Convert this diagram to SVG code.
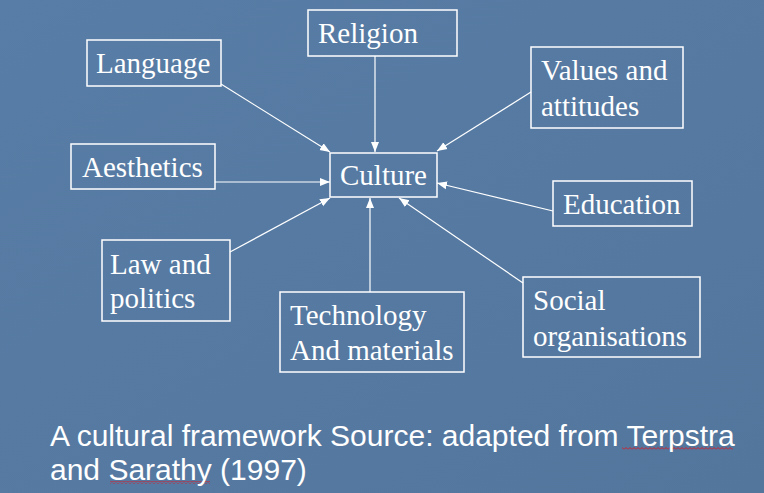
<svg xmlns="http://www.w3.org/2000/svg" width="764" height="493" viewBox="0 0 764 493">
<defs>
<marker id="ah" viewBox="0 0 10 10" refX="10" refY="5" markerWidth="10" markerHeight="10" markerUnits="userSpaceOnUse" orient="auto">
<path d="M0,1 L10,5 L0,9 Z" fill="#ffffff"/>
</marker>
<linearGradient id="bg" x1="0" y1="0" x2="1" y2="1">
<stop offset="0" stop-color="#587da6"/>
<stop offset="1" stop-color="#53769d"/>
</linearGradient>
<pattern id="sq" width="4" height="3" patternUnits="userSpaceOnUse">
<path d="M0,2.5 L2,0.5 L4,2.5" fill="none" stroke="#d0202a" stroke-width="1"/>
</pattern>
</defs>
<style>
.box{fill:none;stroke:#ffffff;stroke-width:1.5}
.t{font-family:"Liberation Serif","Times New Roman",serif;font-size:29px;fill:#ffffff}
.c{font-family:"Liberation Sans",Arial,sans-serif;font-size:30px;fill:#ffffff}
.ln{stroke:#ffffff;stroke-width:1.2;fill:none;marker-end:url(#ah)}
</style>
<rect width="764" height="493" fill="url(#bg)"/>
<g id="connectors">
<line class="ln" x1="221" y1="84" x2="330" y2="152"/>
<line class="ln" x1="375" y1="56" x2="375" y2="152"/>
<line class="ln" x1="531" y1="92" x2="437" y2="151"/>
<line class="ln" x1="215" y1="182" x2="330" y2="182"/>
<line class="ln" x1="553" y1="211" x2="437" y2="183"/>
<line class="ln" x1="230" y1="252" x2="330" y2="198"/>
<line class="ln" x1="370" y1="292" x2="370" y2="198"/>
<line class="ln" x1="523" y1="283" x2="399" y2="198"/>
</g>
<g id="language"><rect class="box" x="87" y="40" width="134" height="46"/><text class="t" x="96" y="73">Language</text></g>
<g id="religion"><rect class="box" x="308" y="10" width="149" height="46"/><text class="t" x="318" y="43">Religion</text></g>
<g id="values"><rect class="box" x="531" y="47" width="152" height="81"/><text class="t" x="541" y="80">Values and</text><text class="t" x="541" y="116">attitudes</text></g>
<g id="aesthetics"><rect class="box" x="71" y="144" width="144" height="45"/><text class="t" x="82" y="177">Aesthetics</text></g>
<g id="culture"><rect class="box" x="330" y="153" width="107" height="44"/><text class="t" x="340" y="185">Culture</text></g>
<g id="education"><rect class="box" x="553" y="181" width="139" height="45"/><text class="t" x="563" y="214">Education</text></g>
<g id="law"><rect class="box" x="102" y="240" width="128" height="81"/><text class="t" x="110" y="274">Law and</text><text class="t" x="110" y="308">politics</text></g>
<g id="technology"><rect class="box" x="280" y="292" width="184" height="80"/><text class="t" x="290" y="325">Technology</text><text class="t" x="290" y="360">And materials</text></g>
<g id="social"><rect class="box" x="523" y="277" width="177" height="80"/><text class="t" x="533" y="310">Social</text><text class="t" x="533" y="346">organisations</text></g>
<g id="caption">
<rect x="622" y="447" width="111" height="3" fill="url(#sq)"/>
<rect x="110" y="481" width="100" height="3" fill="url(#sq)"/>
<text class="c" x="50" y="446">A cultural framework Source: adapted from Terpstra</text>
<text class="c" x="50" y="480">and Sarathy (1997)</text>
</g>
</svg>
